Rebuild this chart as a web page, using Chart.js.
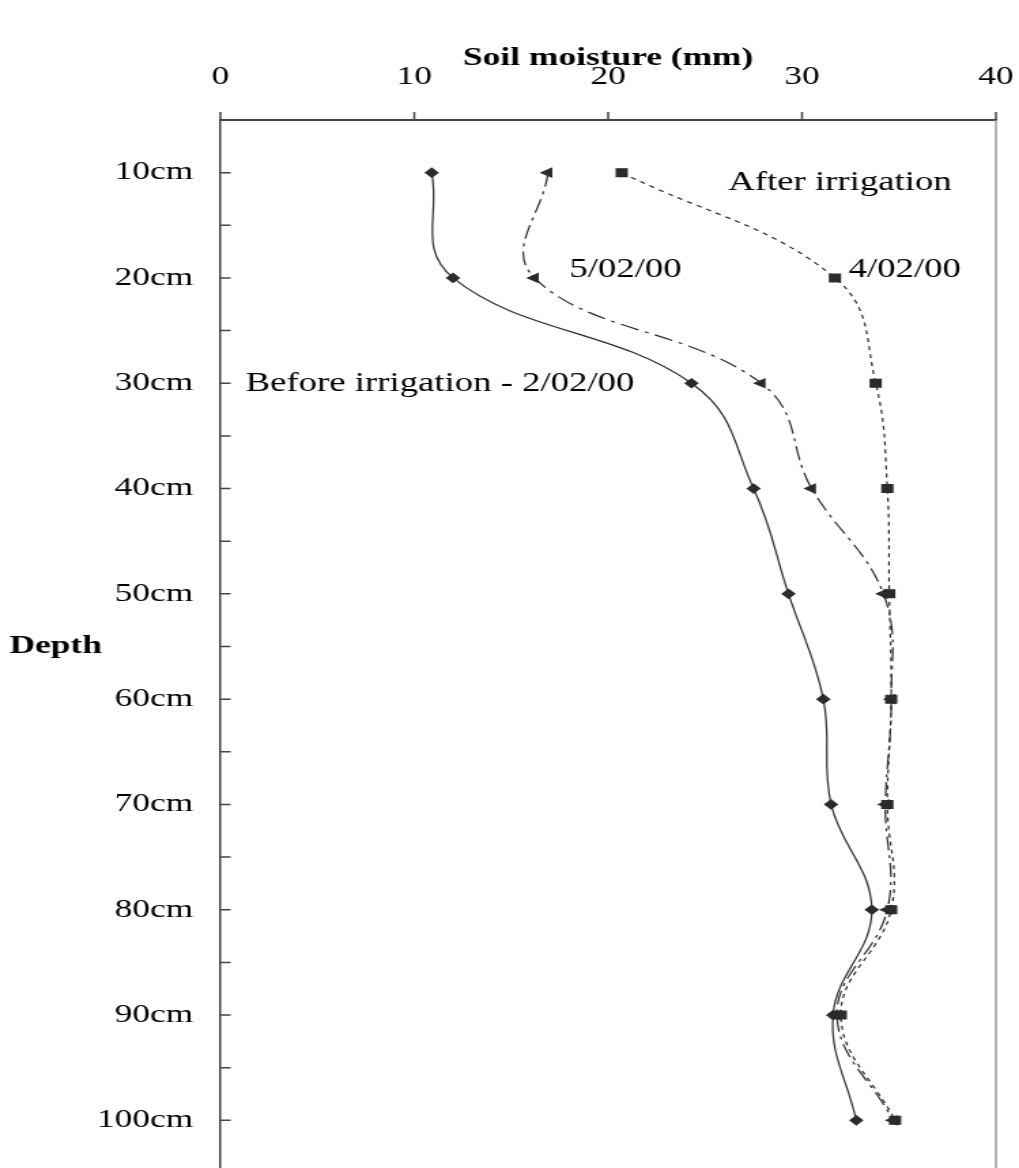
<!DOCTYPE html>
<html>
<head>
<meta charset="utf-8">
<script src="https://cdn.jsdelivr.net/npm/chart.js@4.4.1/dist/chart.umd.min.js"></script>
<style>
  html, body { margin: 0; padding: 0; background: #fff; overflow: hidden; width: 1019px; height: 1168px; }
  #outer { position: absolute; left: 0; top: 0; width: 1019px; height: 1168px; overflow: hidden; }
  /* the source picture is stretched sideways, so the whole chart is too */
  #wrap { width: 749px; height: 1173px; transform: scaleX(1.3605); transform-origin: 0 0; }
  canvas { display: block; }
</style>
</head>
<body>
<div id="outer"><div id="wrap"><canvas id="chart" width="749" height="1173"></canvas></div></div>
<script>
// depth of each reading (cm) and soil moisture (mm)
const depths = [10, 20, 30, 40, 50, 60, 70, 80, 90, 100];
const before0202 = [10.9, 12.0, 24.3, 27.5, 29.3, 31.1, 31.5, 33.6, 31.6, 32.8];
const after0402 = [20.7, 31.7, 33.8, 34.4, 34.5, 34.6, 34.4, 34.6, 32.0, 34.8];
const after0502 = [16.9, 16.2, 27.9, 30.5, 34.2, 34.6, 34.3, 34.4, 31.8, 34.7];
const moistureTicks = [0, 10, 20, 30, 40];

// text labels placed in data units (moisture, depth)
const notes = [
  { text: 'After irrigation', x: 26.2, y: 11.0 },
  { text: '4/02/00', x: 32.4, y: 19.2 },
  { text: '5/02/00', x: 18.0, y: 19.2 },
  { text: 'Before irrigation - 2/02/00', x: 1.3, y: 30.1 },
];

const SERIF = "'Liberation Serif', 'Times New Roman', serif";
const INK = '#2b2b2b';

const toPoints = (vals) => vals.map((v, i) => ({ x: v, y: depths[i] }));

const extras = {
  id: 'extras',
  afterDraw(chart) {
    const { ctx, chartArea, scales: { x, y } } = chart;
    ctx.save();
    ctx.strokeStyle = '#444';
    ctx.lineWidth = 1.5;
    ctx.beginPath();
    // depth ticks point into the plot
    y.ticks.forEach(t => {
      if (t.value <= y.min || t.value >= y.max) return;
      const py = y.getPixelForValue(t.value);
      ctx.moveTo(chartArea.left, py);
      ctx.lineTo(chartArea.left + 7.5, py);
    });
    // moisture ticks point up
    x.ticks.forEach(t => {
      const px = x.getPixelForValue(t.value);
      ctx.moveTo(px, chartArea.top);
      ctx.lineTo(px, chartArea.top - 8);
    });
    ctx.stroke();

    // light right edge of the frame
    ctx.strokeStyle = '#9a9a9a';
    ctx.beginPath();
    ctx.moveTo(chartArea.right, chartArea.top);
    ctx.lineTo(chartArea.right, chartArea.bottom);
    ctx.stroke();

    ctx.fillStyle = '#000';
    ctx.textBaseline = 'middle';
    ctx.textAlign = 'left';
    ctx.font = 'bold 26px ' + SERIF;
    ctx.fillText('Depth', 7, y.getPixelForValue(55));

    ctx.font = '27px ' + SERIF;
    notes.forEach(n => {
      ctx.fillText(n.text, x.getPixelForValue(n.x), y.getPixelForValue(n.y));
    });
    ctx.restore();
  }
};

new Chart(document.getElementById('chart'), {
  type: 'scatter',
  data: {
    datasets: [
      {
        label: 'Before irrigation - 2/02/00',
        data: toPoints(before0202),
        showLine: true,
        borderColor: INK,
        borderWidth: 1.2,
        pointStyle: 'rectRot',
        pointRadius: 4.5,
        pointBackgroundColor: INK,
        pointBorderColor: INK,
        tension: 0.4,
      },
      {
        label: '5/02/00',
        data: toPoints(after0502),
        showLine: true,
        borderColor: INK,
        borderWidth: 1.2,
        borderDash: [14, 5, 3, 5],
        pointStyle: 'triangle',
        rotation: 270,
        pointRadius: 5,
        pointBackgroundColor: INK,
        pointBorderColor: INK,
        tension: 0.4,
      },
      {
        label: 'After irrigation - 4/02/00',
        data: toPoints(after0402),
        showLine: true,
        borderColor: INK,
        borderWidth: 1.2,
        borderDash: [4, 4],
        pointStyle: 'rect',
        pointRadius: 5.5,
        pointBackgroundColor: INK,
        pointBorderColor: INK,
        tension: 0.4,
      },
    ],
  },
  options: {
    responsive: false,
    animation: false,
    events: [],
    layout: { autoPadding: false, padding: { left: 0, right: 17, top: 0, bottom: 0 } },
    plugins: {
      legend: { display: false },
      tooltip: { enabled: false },
    },
    scales: {
      x: {
        type: 'linear',
        position: 'top',
        min: 0,
        max: 40,
        afterBuildTicks: (scale) => { scale.ticks = moistureTicks.map(v => ({ value: v })); },
        afterFit: (scale) => {
          scale.height = 120;
          scale.paddingLeft = scale.paddingRight = 0;
        },
        grid: { display: false, drawTicks: false },
        border: { display: true, color: '#444', width: 2 },
        ticks: {
          color: '#000',
          padding: 27,
          font: { family: SERIF, size: 26 },
        },
        title: {
          display: true,
          text: 'Soil moisture (mm)',
          color: '#000',
          font: { family: SERIF, size: 26, weight: 'bold' },
          padding: { top: 43, bottom: 0 },
        },
      },
      y: {
        type: 'linear',
        reverse: true,
        min: 5,
        max: 105,
        afterFit: (scale) => {
          scale.width = 162;
          scale.paddingTop = scale.paddingBottom = 0;
        },
        grid: { display: false, drawTicks: false },
        border: { display: true, color: '#444', width: 1.5 },
        ticks: {
          stepSize: 5,
          autoSkip: false,
          color: '#000',
          padding: 20,
          font: { family: SERIF, size: 26 },
          callback: (v) => (v % 10 === 0 && depths.includes(v) ? v + 'cm' : ''),
        },
      },
    },
  },
  plugins: [extras],
});
</script>
</body>
</html>
